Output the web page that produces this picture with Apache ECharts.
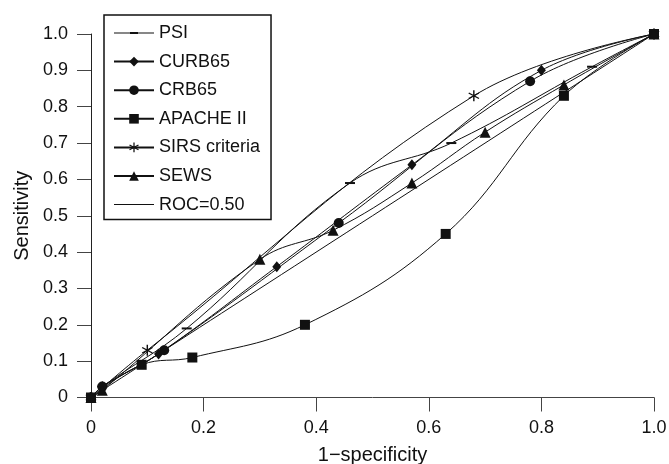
<!DOCTYPE html>
<html>
<head>
<meta charset="utf-8">
<script src="https://cdn.jsdelivr.net/npm/echarts@6/dist/echarts.min.js"></script>
<style>
  html, body { margin: 0; padding: 0; background: #fff; }
  #chart { width: 669px; height: 464px; }
</style>
</head>
<body>
<div id="chart"></div>
<script>
// ROC points, [1-specificity, sensitivity]
var psiPoints = [[0, 0], [0.02, 0.03], [0.17, 0.19], [0.46, 0.59], [0.64, 0.70], [0.89, 0.91], [1, 1]];
var curb65Points = [[0, 0], [0.02, 0.03], [0.12, 0.12], [0.33, 0.36], [0.57, 0.64], [0.80, 0.90], [1, 1]];
var crb65Points = [[0, 0], [0.02, 0.03], [0.13, 0.13], [0.44, 0.48], [0.78, 0.87], [1, 1]];
var apachePoints = [[0, 0], [0.09, 0.09], [0.18, 0.11], [0.38, 0.20], [0.63, 0.45], [0.84, 0.83], [1, 1]];
var sirsPoints = [[0, 0], [0.10, 0.13], [0.68, 0.83], [1, 1]];
var sewsPoints = [[0, 0], [0.02, 0.02], [0.30, 0.38], [0.43, 0.46], [0.57, 0.59], [0.70, 0.73], [0.84, 0.86], [1, 1]];
var refPoints = [[0, 0], [1, 1]];

var seriesNames = ['PSI', 'CURB65', 'CRB65', 'APACHE II', 'SIRS criteria', 'SEWS', 'ROC=0.50'];

var FONT = "'Liberation Sans', Arial, sans-serif";
var dashSymbol = 'path://M0,0H10V1.6H0Z';
// asterisk: three bars, all drawn clockwise so they union
var starSymbol = 'path://M4.4,0H5.6V10H4.4Z M1.0,1.98L9.6,6.98L9.0,8.02L0.4,3.02Z M0.4,6.98L9.0,1.98L9.6,3.02L1.0,8.02Z';
// legend icons for the two series whose default icon is wrong
var psiLegendIcon = 'path://M0,0.5H40V1.5H0Z M16,0H24V2H16Z';
var lineLegendIcon = 'path://M0,0H40V1H0Z';

function rocSeries(name, data, symbol, size) {
    return {
        name: name,
        type: 'line',
        data: data,
        smooth: 0.4,
        clip: false,
        symbol: symbol,
        symbolSize: size,
        showAllSymbol: true,
        lineStyle: { color: '#111', width: 1 },
        itemStyle: { color: '#111' },
        emphasis: { disabled: true },
        animation: false
    };
}

var legendData = seriesNames.map(function (n) {
    if (n === 'PSI') return { name: n, icon: psiLegendIcon };
    if (n === 'ROC=0.50') return { name: n, icon: lineLegendIcon };
    return { name: n };
});

var chart = echarts.init(document.getElementById('chart'));
chart.setOption({
    backgroundColor: '#fff',
    textStyle: { fontFamily: FONT },
    grid: { left: 91, right: 15, top: 34, bottom: 66.5, outerBoundsMode: 'none', containLabel: false },
    legend: {
        data: legendData,
        orient: 'vertical',
        left: 104,
        top: 15,
        itemWidth: 40,
        itemHeight: 12,
        itemGap: 10.6,
        padding: [9, 11, 6, 9],
        borderColor: '#111',
        borderWidth: 1.5,
        backgroundColor: '#fff',
        textStyle: { fontSize: 18, color: '#111', fontFamily: FONT, lineHeight: 18 }
    },
    xAxis: {
        type: 'value',
        min: 0,
        max: 1,
        interval: 0.2,
        name: '1\u2212specificity',
        nameLocation: 'middle',
        nameGap: 48,
        nameTextStyle: { fontSize: 20, color: '#111', fontFamily: FONT },
        axisLine: { show: true, lineStyle: { color: '#444', width: 1 } },
        axisTick: { show: true, length: 14, lineStyle: { color: '#444' } },
        axisLabel: {
            fontSize: 18, color: '#111', margin: 22,
            formatter: function (v) { return v === 0 ? '0' : v.toFixed(1); }
        },
        splitLine: { show: false }
    },
    yAxis: {
        type: 'value',
        min: 0,
        max: 1,
        interval: 0.1,
        name: 'Sensitivity',
        nameLocation: 'middle',
        nameGap: 57,
        nameTextStyle: { fontSize: 20, color: '#111', fontFamily: FONT },
        axisLine: { show: true, lineStyle: { color: '#222', width: 1 } },
        axisTick: { show: true, length: 14, lineStyle: { color: '#444' } },
        axisLabel: {
            fontSize: 18, color: '#111', margin: 23,
            formatter: function (v) { return v === 0 ? '0' : v.toFixed(1); }
        },
        splitLine: { show: false }
    },
    series: [
        rocSeries('ROC=0.50', refPoints, 'none', 0),
        rocSeries('PSI', psiPoints, dashSymbol, [10, 2]),
        rocSeries('CURB65', curb65Points, 'diamond', [9, 11]),
        rocSeries('CRB65', crb65Points, 'circle', 10),
        rocSeries('APACHE II', apachePoints, 'rect', 10),
        rocSeries('SIRS criteria', sirsPoints, starSymbol, 11),
        rocSeries('SEWS', sewsPoints, 'triangle', 11)
    ]
});
</script>
</body>
</html>
